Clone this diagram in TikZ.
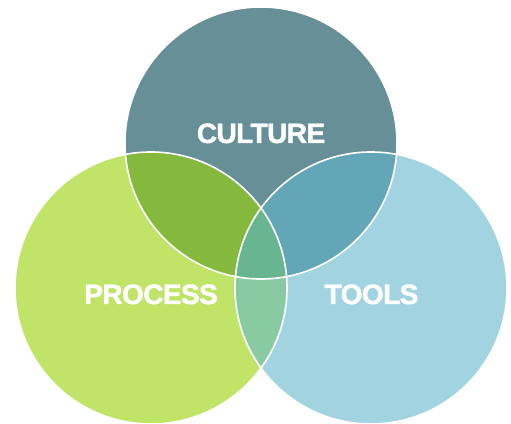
\documentclass[tikz,border=0pt]{standalone}
\usepackage{fontspec}
\setmainfont{Liberation Sans}[BoldFeatures={FakeBold=1.6, LetterSpace=-2}]
\usepackage{xcolor}
\definecolor{culturecol}{RGB}{102,143,151}
\definecolor{processcol}{RGB}{192,228,104}
\definecolor{toolscol}{RGB}{161,212,224}
\definecolor{culprocol}{RGB}{132,185,61}
\definecolor{cultoolcol}{RGB}{99,167,183}
\definecolor{protoolcol}{RGB}{136,202,162}
\definecolor{allcol}{RGB}{106,181,145}
\usepackage{tikz}
\newcommand{\vennradius}{136}
\tikzset{
    label-text/.style={anchor=base, text=white, font=\bfseries\fontsize{28}{28}\selectfont},
    seam/.style={draw=white, line width=1.6pt}
}
\begin{document}
\begin{tikzpicture}[x=1pt, y=1pt]
  \useasboundingbox (0,0) rectangle (511,423);
  \coordinate (culture) at (261,280);
  \coordinate (process) at (151,135);
  \coordinate (tools) at (371,135);

  % the three sets
  \fill[culturecol] (culture) circle (\vennradius);
  \fill[processcol] (process) circle (\vennradius);
  \fill[toolscol] (tools) circle (\vennradius);

  % pairwise overlaps
  \begin{scope}
    \clip (culture) circle (\vennradius);
    \fill[culprocol] (process) circle (\vennradius);
    \fill[cultoolcol] (tools) circle (\vennradius);
  \end{scope}
  \begin{scope}
    \clip (process) circle (\vennradius);
    \fill[protoolcol] (tools) circle (\vennradius);
    \clip (tools) circle (\vennradius);
    \fill[allcol] (culture) circle (\vennradius);
  \end{scope}

  % white seams
  \path[seam] (culture) circle (\vennradius)
              (process) circle (\vennradius)
              (tools) circle (\vennradius);

  \node[label-text] (culture-label) at (261,280) {CULTURE};
  \node[label-text] (process-label) at (151,119) {PROCESS};
  \node[label-text] (tools-label) at (371.5,119) {TOOLS};
\end{tikzpicture}
\end{document}
